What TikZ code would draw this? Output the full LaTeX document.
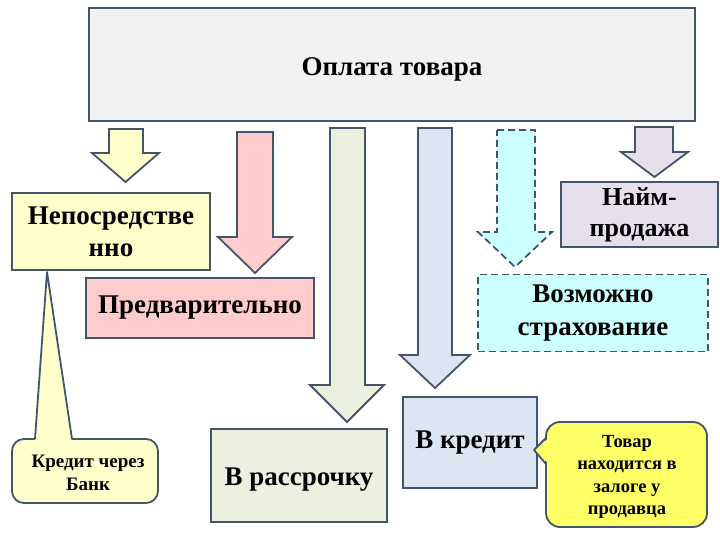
\documentclass[tikz,border=0pt]{standalone}
\usepackage{fontspec}
\setmainfont{Liberation Serif}
\begin{document}
\begin{tikzpicture}[x=1pt,y=-1pt,
  edge/.style={draw=bordc,line width=1.8pt},
  boxst/.style={edge,rectangle,inner sep=0pt,align=center,font=\bfseries\fontsize{27}{32}\selectfont},
  small/.style={font=\bfseries\fontsize{19}{23}\selectfont,align=center}]
\definecolor{bordc}{HTML}{44546A}
\definecolor{topc}{HTML}{F2F2F2}
\definecolor{yelc}{HTML}{FFFFCC}
\definecolor{pinkc}{HTML}{FFCCCC}
\definecolor{beigec}{HTML}{EBF1DE}
\definecolor{bluec}{HTML}{DCE6F2}
\definecolor{cyanc}{HTML}{CCFFFF}
\definecolor{lavc}{HTML}{E6E0EC}
\definecolor{brightc}{HTML}{FFFF66}
\useasboundingbox[fill=white] (0,0) rectangle (720,540);
% arrows
\newcommand{\blockarrow}[8]{%
  \draw[edge,fill=#8] (#1,#3) -- (#2,#3) -- (#2,#4) -- (#6,#4) -- ({(#5+#6)/2},#7) -- (#5,#4) -- (#1,#4) -- cycle;}
\blockarrow{109}{143}{129}{153}{92}{159}{182}{yelc}
\blockarrow{237}{273}{132}{237}{218}{292}{273}{pinkc}
\blockarrow{330}{365}{128}{385}{310}{384}{422}{beigec}
\blockarrow{418}{452}{128}{355}{400}{470}{388}{bluec}
\begin{scope}[dash pattern=on 7pt off 4pt]
\blockarrow{497}{535}{130}{232}{478}{552}{267}{cyanc}
\end{scope}
\blockarrow{635}{673}{127}{152}{621}{688}{177}{lavc}
% top box
\node[boxst,fill=topc,minimum width=606pt,minimum height=113pt,text height=25pt,text depth=2pt] (top) at (392,64.5) {Оплата товара};
% callout Кредит через Банк
\draw[edge,fill=yelc,rounded corners=12pt] (12,439) rectangle (158,503);
\fill[yelc] (35,442) -- (47,272) -- (72,442) -- cycle;
\draw[edge,line join=round] (35,439) -- (47,272) -- (72,439);
\node[small] (bank) at (88,473) {Кредит через\\Банк};
% boxes
\node[boxst,fill=yelc,minimum width=198pt,minimum height=77pt,text depth=0pt] (nep) at (111,231.5) {Непосредстве\\нно};
\node[boxst,fill=lavc,minimum width=157pt,minimum height=65pt,font=\bfseries\fontsize{26}{31}\selectfont] (naim) at (639.5,214.5) {Найм-\\продажа};
\node[boxst,fill=cyanc,dash pattern=on 7pt off 4pt,minimum width=230pt,minimum height=77pt,font=\bfseries\fontsize{27}{33}\selectfont] (vozm) at (593,313) {Возможно\\страхование};
\node[boxst,fill=pinkc,minimum width=228pt,minimum height=60pt] (pred) at (200,308) {Предварительно};
\node[boxst,fill=beigec,minimum width=176pt,minimum height=93pt,text height=22pt,text depth=2pt] (rass) at (299,475.5) {В рассрочку};
\node[boxst,fill=bluec,minimum width=134pt,minimum height=91pt] (kred) at (470,442.5) {В кредит};
% callout Товар
\draw[edge,fill=brightc,rounded corners=14pt] (546,422) rectangle (707,527);
\fill[brightc] (549,438) -- (534,450) -- (549,464) -- cycle;
\draw[edge,line join=round] (546,438) -- (534,450) -- (546,464);
\node[small,font=\bfseries\fontsize{18.5}{22.5}\selectfont] (tovar) at (627,477) {Товар\\находится в\\залоге у\\продавца};
\end{tikzpicture}
\end{document}
